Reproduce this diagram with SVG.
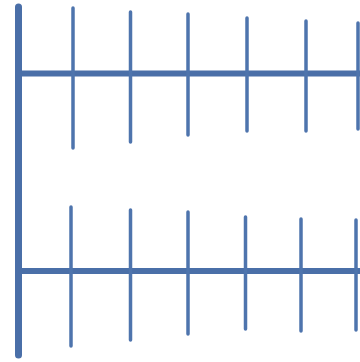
<svg xmlns="http://www.w3.org/2000/svg" width="360" height="362" viewBox="0 0 360 362">
<style>
.bar{stroke:#4A6FA8;stroke-width:7;stroke-linecap:round;fill:none}
.rail{stroke:#4A6FA8;stroke-width:6;fill:none}
.tick{stroke:#4E74AD;stroke-width:3.5;stroke-linecap:round;fill:none}
</style>
<rect width="360" height="362" fill="#ffffff"/>
<g id="spine"><line class="bar" x1="18.5" y1="7" x2="18.5" y2="355"/></g>
<g id="top-row">
<line class="rail" x1="18" y1="73.5" x2="360" y2="73.5"/>
<line class="tick" x1="73" y1="8" x2="73" y2="148"/>
<line class="tick" x1="130.5" y1="12" x2="130.5" y2="142"/>
<line class="tick" x1="188" y1="14" x2="188" y2="135"/>
<line class="tick" x1="247" y1="18" x2="247" y2="131"/>
<line class="tick" x1="306" y1="21" x2="306" y2="131"/>
<line class="tick" x1="358" y1="23" x2="358" y2="129"/>
</g>
<g id="bottom-row">
<line class="rail" x1="18" y1="271" x2="360" y2="271"/>
<line class="tick" x1="71" y1="207" x2="71" y2="346"/>
<line class="tick" x1="130.5" y1="210" x2="130.5" y2="340"/>
<line class="tick" x1="188" y1="212" x2="188" y2="334"/>
<line class="tick" x1="245.5" y1="217" x2="245.5" y2="329"/>
<line class="tick" x1="301" y1="219" x2="301" y2="331"/>
<line class="tick" x1="356" y1="220" x2="356" y2="330"/>
</g>
</svg>
